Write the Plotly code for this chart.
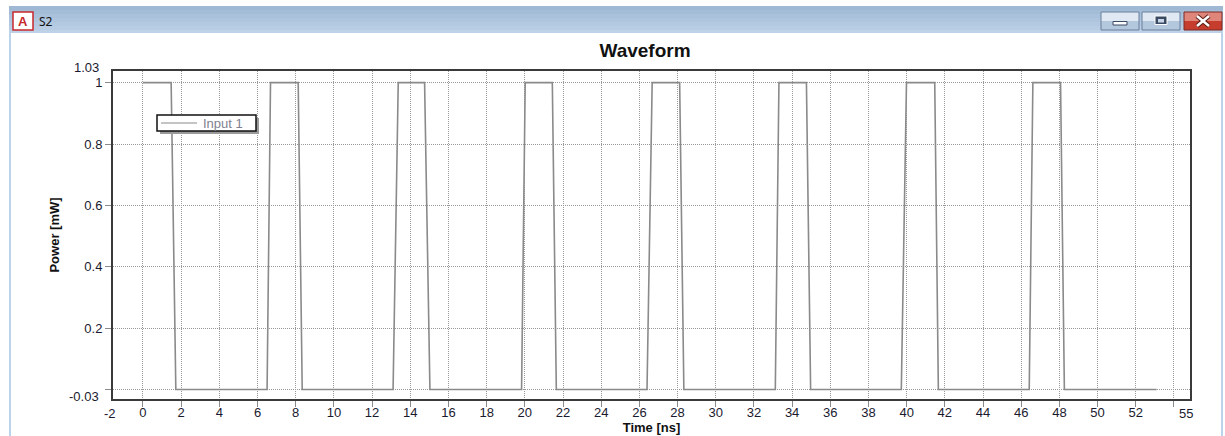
import plotly.graph_objects as go

# ---------------- data ----------------
time_ns = [0.00, 1.475, 1.538, 1.595, 1.658, 1.721,
           6.50, 6.56, 6.62, 6.68, 8.13, 8.20, 8.27, 8.34,
           13.10, 13.17, 13.24, 13.30, 13.37, 14.75, 14.82, 14.89, 14.96, 15.03,
           19.83, 19.90, 19.96, 20.02, 21.44, 21.51, 21.58, 21.65,
           26.40, 26.47, 26.54, 26.61, 26.67, 28.11, 28.19, 28.26, 28.33,
           33.12, 33.18, 33.24, 33.31, 34.75, 34.83, 34.90, 34.97,
           39.72, 39.79, 39.86, 39.93, 39.99, 41.47, 41.54, 41.60, 41.66,
           46.42, 46.48, 46.54, 46.61, 48.06, 48.13, 48.20, 48.26,
           53.09]
power_mW = [1, 1, 0.75, 0.5, 0.25, 0,
            0, 0.333, 0.667, 1, 1, 0.667, 0.333, 0,
            0, 0.25, 0.5, 0.75, 1, 1, 0.75, 0.5, 0.25, 0,
            0, 0.333, 0.667, 1, 1, 0.667, 0.333, 0,
            0, 0.25, 0.5, 0.75, 1, 1, 0.667, 0.333, 0,
            0, 0.333, 0.667, 1, 1, 0.667, 0.333, 0,
            0, 0.25, 0.5, 0.75, 1, 1, 0.667, 0.333, 0,
            0, 0.333, 0.667, 1, 1, 0.667, 0.333, 0,
            0]

x_range = [-1.57, 54.84]
y_range = [-0.031, 1.038]
x_tickvals = [0, 2, 4, 6, 8, 10, 12, 14, 16, 18, 20, 22, 24, 26, 28, 30,
              32, 34, 36, 38, 40, 42, 44, 46, 48, 50, 52, 54]
x_ticktext = ["0", "2", "4", "6", "8", "10", "12", "14", "16", "18", "20",
              "22", "24", "26", "28", "30", "32", "34", "36", "38", "40", "42",
              "44", "46", "48", "50", "52", ""]
y_tickvals = [0, 0.2, 0.4, 0.6, 0.8, 1]
y_ticktext = ["", "0.2", "0.4", "0.6", "0.8", "1"]
x_edge_labels = ["-2", "55"]
y_edge_labels = ["-0.03", "1.03"]
legend_label = "Input 1"

# ---------------- layout geometry ----------------
W, H = 1225, 436
L, R, T, B = 113, 1190, 71, 399


def px(x):
    return (x - L) / (R - L)


def py(y):
    return 1 - (y - T) / (B - T)


FONT = "Liberation Sans, Arial, sans-serif"
TXT = "#1a1a2e"
TICK_SIZE = 13

fig = go.Figure()
fig.add_trace(go.Scatter(
    x=time_ns, y=power_mW, mode="lines", name=legend_label, showlegend=False,
    line=dict(color="#8a8a8a", width=1.6),
))

shapes = []
annotations = []


def prect(x0, x1, y0, y1, fill, line=None, layer="above"):
    shapes.append(dict(type="rect", xref="paper", yref="paper",
                       x0=px(x0), x1=px(x1), y0=py(y1), y1=py(y0),
                       fillcolor=fill, line=line or dict(width=0), layer=layer))


def ptext(text, x, y, size, color, xanchor="center", family=FONT):
    annotations.append(dict(text=text, x=px(x), y=py(y), xref="paper", yref="paper",
                            xanchor=xanchor, yanchor="middle", showarrow=False,
                            font=dict(family=family, size=size, color=color)))


# window chrome: title bar (banded gradient)
bands = [(6, 10, "#9fb9d4"), (10, 14, "#a4bdd7"), (14, 18, "#a9c1da"),
         (18, 22, "#aec5dd"), (22, 26, "#b3c9e1"), (26, 30, "#b8cde4"),
         (30, 33, "#bdd1e7")]
for y0, y1, c in bands:
    prect(9, 1223, y0, y1, c, layer="below")
# side borders
prect(9, 11, 33, 436, "#bcd3ec", layer="below")
prect(1221, 1223, 33, 436, "#bcd3ec", layer="below")
# icon
prect(13, 33, 12, 30, "white", line=dict(color="#c8282d", width=1.5))
ptext("<b>A</b>", 23, 21.5, 13, "#c8282d")
ptext("S2", 37, 21, 12, "#111", xanchor="left",
      family="Noto Sans, DejaVu Sans, sans-serif")
# buttons
for x0, x1 in [(1101, 1139), (1142, 1180)]:
    prect(x0, x1, 12, 21, "#dfe8f3")
    prect(x0, x1, 21, 30, "#b3c7dd")
    prect(x0, x1, 12, 30, "rgba(0,0,0,0)", line=dict(color="#6b7f9c", width=1))
prect(1184, 1222, 12, 21, "#e0857a")
prect(1184, 1222, 21, 30, "#c63d2d")
prect(1184, 1222, 12, 30, "rgba(0,0,0,0)", line=dict(color="#7a2a24", width=1))
# minimize glyph
prect(1113, 1127, 21.5, 25, "white", line=dict(color="#3a4a62", width=1))
# maximize glyph
prect(1155, 1167, 16, 24.5, "#3a4a62", line=dict(color="white", width=1))
prect(1158, 1164, 19, 22.5, "#c9d6e6")
# close glyph
for col, wd in [("#5a1c16", 4.5), ("white", 2.5)]:
    for (a, b, c, d) in [(1197, 16, 1209, 26), (1197, 26, 1209, 16)]:
        shapes.append(dict(type="line", xref="paper", yref="paper",
                           x0=px(a), y0=py(b), x1=px(c), y1=py(d),
                           line=dict(color=col, width=wd)))

# legend (box with shadow, sample line, label)
prect(160, 259, 118, 134, "#9a9a9a")
prect(157, 256, 115, 131, "white", line=dict(color="#111", width=1.5))
shapes.append(dict(type="line", xref="paper", yref="paper",
                   x0=px(161), x1=px(197), y0=py(123), y1=py(123),
                   line=dict(color="#8a8a8a", width=1.2), layer="above"))
ptext(legend_label, 201, 123, 13, "#7f7f90", xanchor="left")

# edge labels of the axes
ptext(x_edge_labels[0], 110, 413, TICK_SIZE, TXT)
ptext(x_edge_labels[1], 1186, 413, TICK_SIZE, TXT)
ptext(y_edge_labels[0], 101, 396, TICK_SIZE, TXT, xanchor="right")
ptext(y_edge_labels[1], 101, 67, TICK_SIZE, TXT, xanchor="right")

axis_common = dict(
    showline=True, linecolor="#3a3a3a", linewidth=2, mirror=True,
    showgrid=True, gridcolor="#9a9a9a", gridwidth=1, griddash="1px,1px",
    zeroline=False, ticks="outside", ticklen=6, tickcolor="#8a8a8a",
    tickfont=dict(family=FONT, size=TICK_SIZE, color=TXT),
    tickmode="array", automargin=False,
)

fig.update_layout(
    width=W, height=H,
    margin=dict(l=L, r=W - R, t=T, b=H - B, autoexpand=False),
    paper_bgcolor="white", plot_bgcolor="white",
    title=dict(text="<b>Waveform</b>", x=645 / W, xref="container",
               y=1 - 50 / H, yref="container", xanchor="center", yanchor="middle",
               font=dict(family=FONT, size=19, color="#111")),
    xaxis=dict(range=x_range, tickvals=x_tickvals, ticktext=x_ticktext,
               ticklabelstandoff=-6,
               title=dict(text="<b>Time [ns]</b>", standoff=2,
                          font=dict(family=FONT, size=13, color="#111")),
               **axis_common),
    yaxis=dict(range=y_range, tickvals=y_tickvals, ticktext=y_ticktext,
               title=dict(text="<b>Power [mW]</b>", standoff=22,
                          font=dict(family=FONT, size=13, color="#111")),
               **axis_common),
    showlegend=False,
    shapes=shapes,
    annotations=annotations,
)

fig.write_html("out.html")
